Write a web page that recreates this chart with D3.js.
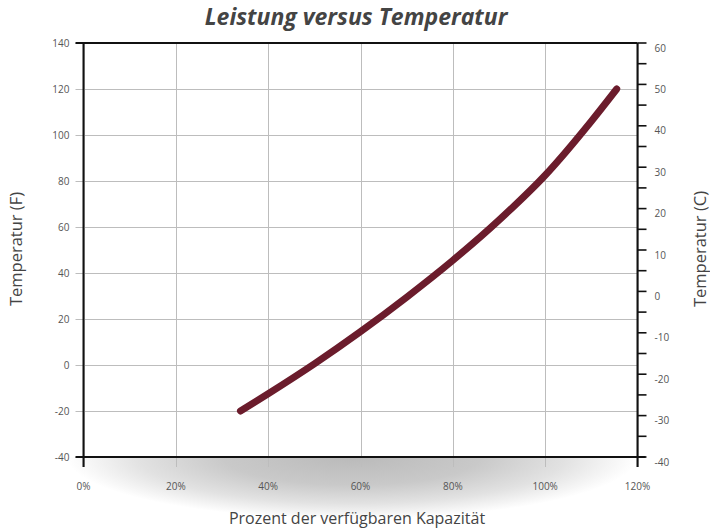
<!DOCTYPE html>
<html>
<head>
<meta charset="utf-8">
<script src="https://cdn.jsdelivr.net/npm/d3@7"></script>
<style>
  html, body { margin: 0; padding: 0; background: #fff; }
  svg { display: block; font-family: "Open Sans", "Noto Sans", sans-serif; }
</style>
</head>
<body>
<svg id="chart" width="710" height="530"></svg>
<script>
// Capacity (% of rated) against ambient temperature (°F)
const capacityPct = [34, 40, 50, 60, 70, 80, 90, 100, 110, 115.5];
const temperatureF = [-20, -12.5, 0.5, 14.5, 29.5, 45.5, 63, 82.5, 106, 120];

const xTicks = [0, 20, 40, 60, 80, 100, 120];
const yTicksF = [-40, -20, 0, 20, 40, 60, 80, 100, 120, 140];
const yTicksC = [-40, -30, -20, -10, 0, 10, 20, 30, 40, 50, 60];
const yMinorC = d3.range(-40, 61, 5);

const titleText = "Leistung versus Temperatur";
const xTitle = "Prozent der verfügbaren Kapazität";
const yTitleLeft = "Temperatur (F)";
const yTitleRight = "Temperatur (C)";

const svg = d3.select("#chart");
const plot = { left: 83.5, right: 637.5, top: 43, bottom: 457 };

const x = d3.scaleLinear().domain([0, 120]).range([plot.left, plot.right]);
const yF = d3.scaleLinear().domain([-40, 140]).range([plot.bottom, plot.top]);
const yC = d3.scaleLinear().domain([-40, 60]).range([plot.bottom, plot.top]);

// soft floor shadow under the bottom axis
const defs = svg.append("defs");
const grad = defs.append("radialGradient").attr("id", "floorShade")
  .attr("cx", "50%").attr("cy", "50%").attr("r", "50%");
grad.append("stop").attr("offset", "0%").attr("stop-color", "#bababa");
grad.append("stop").attr("offset", "45%").attr("stop-color", "#c9c9c9");
grad.append("stop").attr("offset", "75%").attr("stop-color", "#e2e2e2");
grad.append("stop").attr("offset", "100%").attr("stop-color", "#ffffff");
svg.append("ellipse")
  .attr("cx", 352)
  .attr("cy", plot.bottom)
  .attr("rx", 285).attr("ry", 62)
  .attr("fill", "url(#floorShade)");
// plot background covers the upper half of the shadow
svg.append("rect")
  .attr("x", 0).attr("y", 0)
  .attr("width", 710).attr("height", plot.bottom)
  .attr("fill", "#fff");

const gridColor = "#bdbdbd";
const labelColor = "#555";

// horizontal grid + left ticks
svg.append("g").selectAll("line").data(yTicksF).join("line")
  .attr("x1", plot.left - 8).attr("x2", plot.right)
  .attr("y1", d => Math.round(yF(d)) + 0.5).attr("y2", d => Math.round(yF(d)) + 0.5)
  .attr("stroke", gridColor).attr("stroke-width", 1);

// vertical grid + bottom ticks
svg.append("g").selectAll("line").data(xTicks).join("line")
  .attr("x1", d => Math.round(x(d)) + 0.5).attr("x2", d => Math.round(x(d)) + 0.5)
  .attr("y1", plot.top).attr("y2", plot.bottom + 10)
  .attr("stroke", gridColor).attr("stroke-width", 1);

// frame lines
svg.append("line").attr("x1", plot.left - 8).attr("x2", plot.right)
  .attr("y1", plot.top).attr("y2", plot.top).attr("stroke", "#111").attr("stroke-width", 2);
svg.append("line").attr("x1", plot.left - 8).attr("x2", plot.right + 8)
  .attr("y1", plot.bottom).attr("y2", plot.bottom).attr("stroke", "#111").attr("stroke-width", 2);
svg.append("line").attr("x1", plot.left).attr("x2", plot.left)
  .attr("y1", plot.top).attr("y2", plot.bottom + 10).attr("stroke", "#111").attr("stroke-width", 2);
svg.append("line").attr("x1", plot.right).attr("x2", plot.right)
  .attr("y1", plot.top).attr("y2", plot.bottom + 10).attr("stroke", "#111").attr("stroke-width", 2);

// right axis ticks every 5 °C
svg.append("g").selectAll("line").data(yMinorC).join("line")
  .attr("x1", plot.right).attr("x2", plot.right + 9)
  .attr("y1", d => yC(d)).attr("y2", d => yC(d))
  .attr("stroke", "#111").attr("stroke-width", 1.6);

// left tick labels
svg.append("g").selectAll("text").data(yTicksF).join("text")
  .attr("x", plot.left - 14).attr("y", d => yF(d))
  .attr("dy", "0.35em").attr("text-anchor", "end")
  .attr("font-size", 10).attr("fill", labelColor)
  .text(d => d);

// right tick labels
svg.append("g").selectAll("text").data(yTicksC).join("text")
  .attr("x", plot.right + 17).attr("y", d => Math.max(yC(d) + 5, plot.top + 1))
  .attr("dy", "0.35em").attr("text-anchor", "start")
  .attr("font-size", 10).attr("fill", labelColor)
  .text(d => d);

// bottom tick labels
svg.append("g").selectAll("text").data(xTicks).join("text")
  .attr("x", d => x(d)).attr("y", plot.bottom + 29)
  .attr("dy", "0.35em").attr("text-anchor", "middle")
  .attr("font-size", 10).attr("fill", labelColor)
  .text(d => d + "%");

// capacity curve
const pts = capacityPct.map((c, i) => [c, temperatureF[i]]);
const line = d3.line().x(d => x(d[0])).y(d => yF(d[1])).curve(d3.curveMonotoneX);
svg.append("path").datum(pts)
  .attr("d", line)
  .attr("fill", "none").attr("stroke", "#6b1c2c")
  .attr("stroke-width", 7).attr("stroke-linecap", "round").attr("stroke-linejoin", "round");

// titles
svg.append("text").attr("x", 356).attr("y", 25)
  .attr("text-anchor", "middle").attr("font-size", 23)
  .attr("font-weight", "bold").attr("font-style", "italic")
  .attr("fill", "#444").text(titleText);

svg.append("text").attr("x", 357).attr("y", 524)
  .attr("text-anchor", "middle").attr("font-size", 16)
  .attr("fill", "#444").text(xTitle);

svg.append("text")
  .attr("transform", "translate(22,249) rotate(-90)")
  .attr("text-anchor", "middle").attr("font-size", 16.5)
  .attr("fill", "#444").text(yTitleLeft);

svg.append("text")
  .attr("transform", "translate(706,249) rotate(-90)")
  .attr("text-anchor", "middle").attr("font-size", 16.5)
  .attr("fill", "#444").text(yTitleRight);
</script>
</body>
</html>
